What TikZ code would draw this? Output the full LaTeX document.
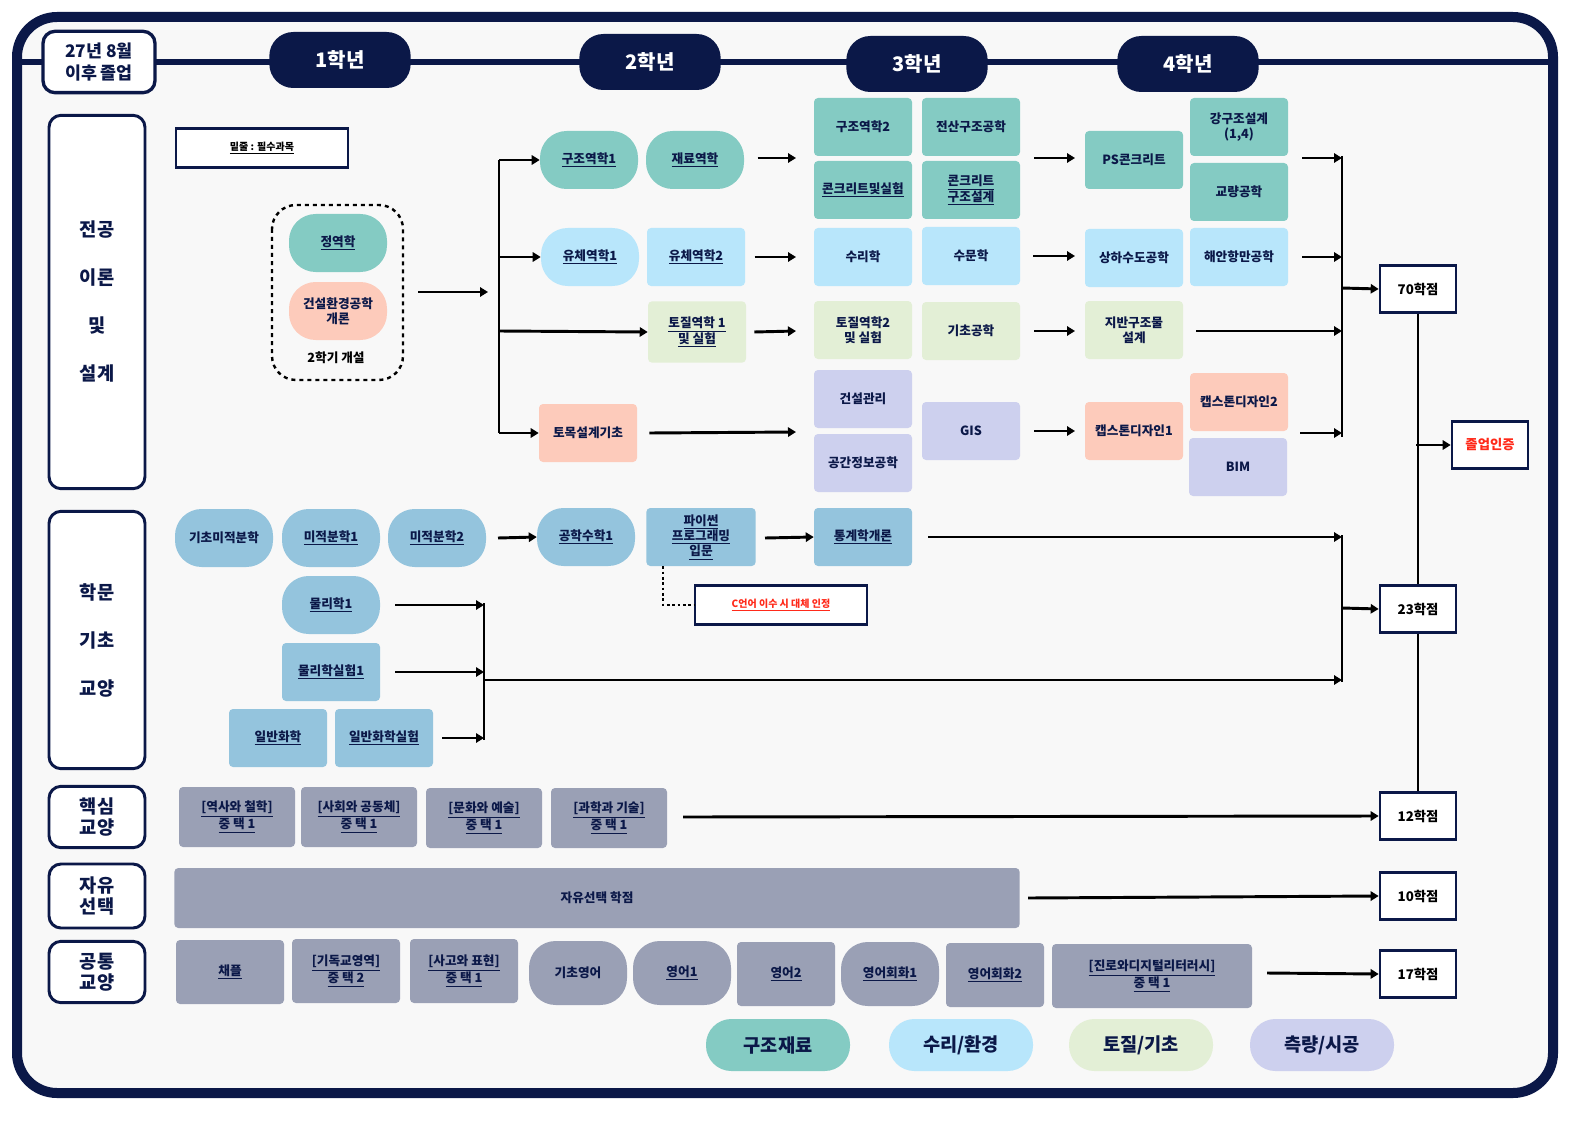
\documentclass[tikz,border=0pt]{standalone}
\usepackage{fontspec}
\setmainfont{Noto Sans CJK KR}
\usetikzlibrary{arrows.meta,positioning}
\definecolor{navy}{HTML}{0B1848}
\definecolor{cteal}{HTML}{84CBC3}
\definecolor{cblue}{HTML}{B8E6FB}
\definecolor{cgreen}{HTML}{E3EFD6}
\definecolor{clav}{HTML}{CDD0EE}
\definecolor{csal}{HTML}{FDCBBB}
\definecolor{csci}{HTML}{94C4DD}
\definecolor{cgray}{HTML}{9AA0B5}
\definecolor{bg}{HTML}{F8F8F8}
\definecolor{cred}{HTML}{FF2A1A}
\newcommand{\ul}[1]{\underline{#1}}
\begin{document}
\begin{tikzpicture}[x=0.75pt,y=-0.75pt,
  txt/.style={text=navy,font=\bfseries\fontsize{9.5}{11.5}\selectfont,align=center,inner sep=1pt},
  rc/.style={txt,rectangle,rounded corners=3pt,minimum width=73.5pt,minimum height=43.5pt},
  el/.style={txt,rectangle,rounded corners=20pt,minimum width=73.5pt,minimum height=43.5pt},
  cat/.style={draw=navy,line width=2.2pt,fill=white,rounded corners=9pt,text=navy,font=\bfseries\fontsize{14}{16}\selectfont,align=center},
  yr/.style={fill=navy,rounded corners=18pt,text=white,font=\bfseries\fontsize{15}{17}\selectfont,minimum width=106pt,minimum height=42pt},
  cr/.style={draw=navy,line width=2pt,fill=white,text=black,font=\bfseries\fontsize{10}{12}\selectfont,minimum width=57pt,minimum height=35pt},
  arr/.style={line width=2.2pt,-{Triangle[length=6pt,width=7pt]}},
  ln/.style={line width=2.2pt},
  lg/.style={txt,rounded corners=19pt,minimum width=108pt,minimum height=39pt,font=\bfseries\fontsize{14}{16}\selectfont}]
\fill[white] (0,0) rectangle (1587,1123);
\useasboundingbox (0,0) rectangle (1587,1123);
\draw[navy,line width=7.5pt,rounded corners=30pt,fill=bg] (17,17) rectangle (1553,1093);
\draw[navy,line width=4pt] (17,62) -- (1553,62);
% headers
\node[cat,minimum width=84pt,minimum height=46pt,line width=2.5pt,font=\bfseries\fontsize{13}{16}\selectfont] (grad) at (99,62) {27년 8월\\이후 졸업};
\node[yr] (y1) at (340,60) {1학년};
\node[yr] (y2) at (650,62) {2학년};
\node[yr] (y3) at (917,64) {3학년};
\node[yr] (y4) at (1188,64) {4학년};
% categories
\node[cat,minimum width=72pt,minimum height=280pt] (c1) at (97,302) {전공\\[20pt]이론\\[20pt]및\\[20pt]설계};
\node[cat,minimum width=72pt,minimum height=193pt] (c2) at (97,640) {학문\\[20pt]기초\\[20pt]교양};
\node[cat,minimum width=72pt,minimum height=46pt] (c3) at (97,817) {핵심\\교양};
\node[cat,minimum width=72pt,minimum height=48pt] (c4) at (97,896) {자유\\선택};
\node[cat,minimum width=72pt,minimum height=46pt] (c5) at (97,972) {공통\\교양};
% legend
\node[draw=navy,line width=2pt,fill=white,minimum width=129pt,minimum height=29pt,font=\bfseries\fontsize{7.5}{9}\selectfont] (leg) at (262,148) {\ul{밑줄 : 필수과목}};
% 1st year
\draw[dashed,line width=1.8pt,rounded corners=18pt] (272,205) rectangle (403,380);
\coordinate (fr) at (418,292);
\node[el,fill=cteal] (jeok) at (338,243) {\ul{정역학}};
\node[el,fill=csal] (intro) at (338,311) {건설환경공학\\개론};
\node[txt,text=black] (sem2) at (336,358) {2학기 개설};
\coordinate (b1) at (488,292);
\draw[arr] (fr) -- (b1);
\coordinate (v1t) at (499,160); \coordinate (v1b) at (499,433);
\draw[ln] (v1t) -- (v1b);
% 2nd year
\node[el,fill=cteal] (gj1) at (589,160) {\ul{구조역학1}};
\node[el,fill=cteal] (jr) at (695,160) {\ul{재료역학}};
\node[el,fill=cblue] (yc1) at (590,257) {\ul{유체역학1}};
\node[rc,fill=cblue] (yc2) at (696,257) {\ul{유체역학2}};
\node[rc,fill=cgreen,minimum height=46pt] (tj1) at (697,332) {\ul{토질역학 1}\\\ul{및 실험}};
\node[rc,fill=csal] (tm) at (588,433) {토목설계기초};
\draw[arr] (v1t) -- (gj1.west);
\draw[arr] (499,257) -- (yc1.west);
\draw[arr] (499,331) -- (tj1.west);
\draw[arr] (v1b) -- (tm.west);
% 3rd year
\node[rc,fill=cteal] (gj2) at (863,127) {구조역학2};
\node[rc,fill=cteal] (js) at (971,127) {전산구조공학};
\node[rc,fill=cteal] (kc) at (863,190) {\ul{콘크리트및실험}};
\node[rc,fill=cteal] (kcd) at (971,190) {\ul{콘크리트}\\\ul{구조설계}};
\node[rc,fill=cblue] (sr) at (863,257) {수리학};
\node[rc,fill=cblue] (sm) at (971,256) {수문학};
\node[rc,fill=cgreen] (tj2) at (863,330) {토질역학2\\및 실험};
\node[rc,fill=cgreen] (gc) at (971,331) {기초공학};
\node[rc,fill=clav] (gg) at (863,399) {건설관리};
\node[rc,fill=clav] (gs) at (863,463) {공간정보공학};
\node[rc,fill=clav] (gis) at (971,431) {GIS};
\coordinate (a31) at (796,158);
\draw[arr] ([xshift=10pt]jr.east |- a31) -- (a31);
\draw[arr] ([xshift=7pt]yc2.east) -- (796,257);
\draw[arr] ([xshift=6pt]tj1.east) -- (796,331);
\draw[arr] ([xshift=9pt]tm.east) -- (796,432);
% 4th year
\node[rc,fill=cteal] (ps) at (1134,160) {PS콘크리트};
\node[rc,fill=cteal] (gk) at (1239,127) {강구조설계\\(1,4)};
\node[rc,fill=cteal] (gr) at (1239,192) {교량공학};
\node[rc,fill=cblue] (shs) at (1134,258) {상하수도공학};
\node[rc,fill=cblue] (hh) at (1239,257) {해안항만공학};
\node[rc,fill=cgreen] (jb) at (1134,330) {지반구조물\\설계};
\node[rc,fill=csal] (cp1) at (1134,431) {캡스톤디자인1};
\node[rc,fill=csal] (cp2) at (1239,402) {캡스톤디자인2};
\node[rc,fill=clav] (bim) at (1238,467) {BIM};
\draw[arr] (1034,158) -- (1075,158);
\draw[arr] (1033,256) -- (1075,256);
\draw[arr] (1034,331) -- (1075,331);
\draw[arr] (1034,431) -- (1075,431);
\coordinate (v2t) at (1342,158); \coordinate (v2b) at (1342,433);
\draw[arr] (1302,158) -- (v2t);
\draw[arr] (1302,257) -- (1342,257);
\draw[arr] (1196,331) -- (1342,331);
\draw[arr] (1300,433) -- (v2b);
\draw[ln] (1342,156) -- (1342,437);
% credits
\node[cr] (k70) at (1418,289) {70학점};
\node[cr] (k23) at (1418,609) {23학점};
\node[cr] (k12) at (1418,816) {12학점};
\node[cr] (k10) at (1418,896) {10학점};
\node[cr] (k17) at (1418,974) {17학점};
\node[cr,text=cred] (grd) at (1490,445) {졸업인증};
\draw[arr] (1342,288) -- (k70.west);
\draw[ln] (k70.south) -- (k23.north);
\draw[ln] (k23.south) -- (k12.north);
\draw[arr] (1416,445) -- (grd.west);
% basic science
\node[el,fill=csci] (m0) at (224,538) {기초미적분학};
\node[el,fill=csci] (m1) at (331,538) {\ul{미적분학1}};
\node[el,fill=csci] (m2) at (437,538) {\ul{미적분학2}};
\node[el,fill=csci] (em) at (586,537) {\ul{공학수학1}};
\node[rc,fill=csci,minimum width=82pt] (py) at (701,537) {\ul{파이썬}\\\ul{프로그래밍}\\\ul{입문}};
\node[rc,fill=csci] (st) at (863,537) {\ul{통계학개론}};
\node[el,fill=csci] (ph) at (331,605) {\ul{물리학1}};
\node[rc,fill=csci] (phl) at (331,672) {\ul{물리학실험1}};
\node[rc,fill=csci] (ch) at (278,738) {\ul{일반화학}};
\node[rc,fill=csci] (chl) at (384,738) {\ul{일반화학실험}};
\draw[arr] (498,538) -- (em.west);
\draw[arr] (765,538) -- (st.west);
\coordinate (v3t) at (1342,537); \coordinate (v3b) at (1342,680);
\draw[arr] (928,537) -- (v3t);
\draw[arr] (395,605) -- (484,605);
\draw[arr] (395,672) -- (484,672);
\draw[arr] (442,738) -- (484,738);
\draw[ln] (484,603) -- (484,740);
\draw[arr] (484,680) -- (v3b);
\draw[ln] (1342,535) -- (1342,682);
\draw[arr] (1342,608) -- (k23.west);
\node[draw=navy,line width=2pt,fill=white,minimum width=129pt,minimum height=29pt,text=cred,font=\bfseries\fontsize{7.5}{9}\selectfont] (cl) at (781,605) {\ul{C언어 이수 시 대체 인정}};
\draw[dotted,line width=2pt] (py.south -| 663,0) |- (cl.west);
% core
\node[rc,fill=cgray,minimum width=87pt,minimum height=45pt] (h1) at (237,817) {\ul{[역사와 철학]}\\\ul{중 택 1}};
\node[rc,fill=cgray,minimum width=87pt,minimum height=45pt] (h2) at (359,817) {\ul{[사회와 공동체]}\\\ul{중 택 1}};
\node[rc,fill=cgray,minimum width=87pt,minimum height=45pt] (h3) at (484,818) {\ul{[문화와 예술]}\\\ul{중 택 1}};
\node[rc,fill=cgray,minimum width=87pt,minimum height=45pt] (h4) at (609,818) {\ul{[과학과 기술]}\\\ul{중 택 1}};
\draw[arr] (683,817) -- (k12.west);
\node[rc,fill=cgray,minimum width=634pt,minimum height=45pt] (free) at (597,898) {자유선택 학점};
\draw[arr] (1028,898) -- (k10.west);
% common
\node[rc,fill=cgray,minimum width=81pt,minimum height=48pt] (g1) at (230,972) {\ul{채플}};
\node[rc,fill=cgray,minimum width=81pt,minimum height=48pt] (g2) at (346,971) {\ul{[기독교영역]}\\\ul{중 택 2}};
\node[rc,fill=cgray,minimum width=81pt,minimum height=48pt] (g3) at (464,971) {\ul{[사고와 표현]}\\\ul{중 택 1}};
\node[el,fill=cgray,minimum height=48pt] (g4) at (578,973) {기초영어};
\node[el,fill=cgray,minimum height=48pt] (g5) at (682,973) {\ul{영어1}};
\node[rc,fill=cgray,minimum height=48pt] (g6) at (786,974) {\ul{영어2}};
\node[el,fill=cgray,minimum height=48pt] (g7) at (890,974) {\ul{영어회화1}};
\node[rc,fill=cgray,minimum height=48pt] (g8) at (995,975) {\ul{영어회화2}};
\node[rc,fill=cgray,minimum width=150pt,minimum height=48pt] (g9) at (1152,976) {\ul{[진로와디지털리터러시]}\\\ul{중 택 1}};
\draw[arr] (1267,973) -- (k17.west);
% legend pills
\node[lg,fill=cteal] (l1) at (778,1045) {구조재료};
\node[lg,fill=cblue] (l2) at (961,1045) {수리/환경};
\node[lg,fill=cgreen] (l3) at (1141,1045) {토질/기초};
\node[lg,fill=clav] (l4) at (1322,1045) {측량/시공};
\end{tikzpicture}
\end{document}
